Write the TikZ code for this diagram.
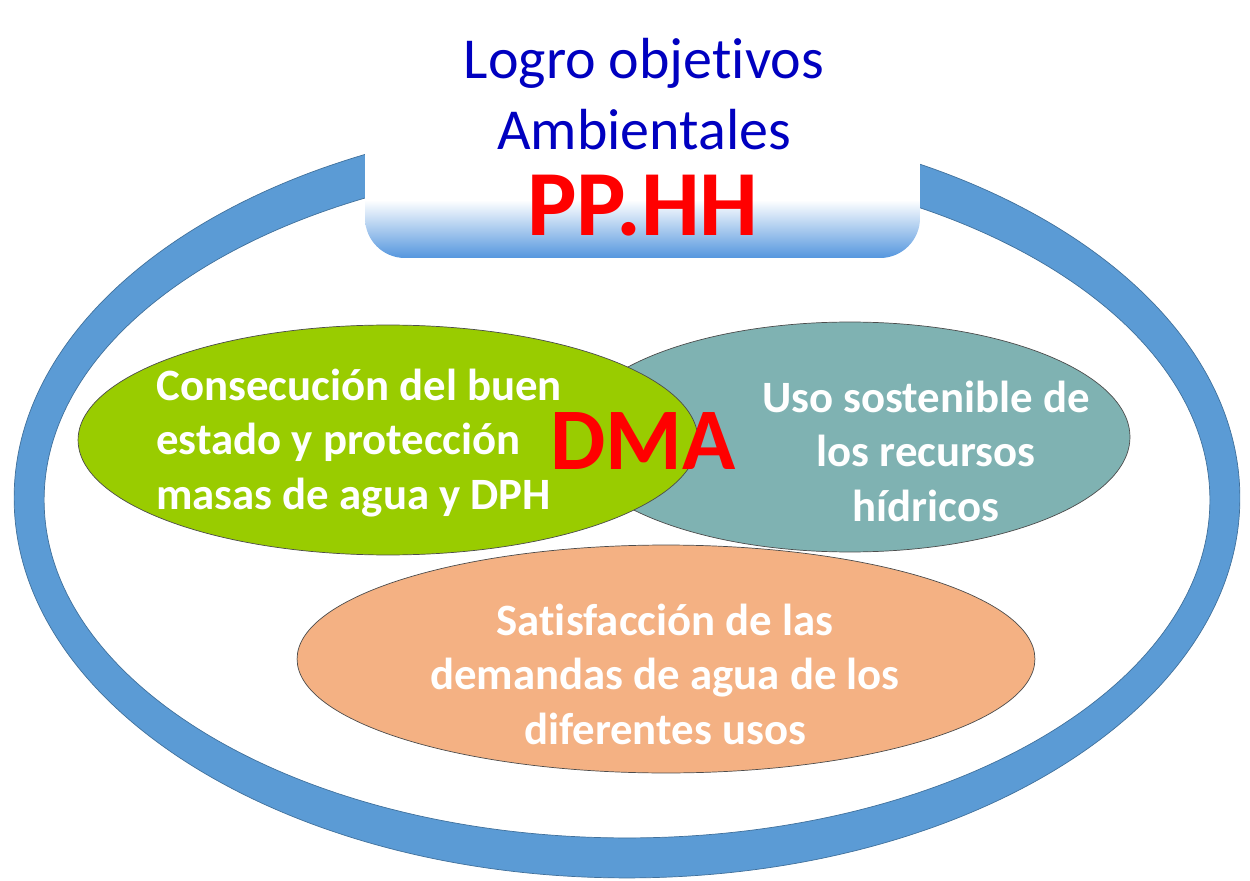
\documentclass[tikz,border=0pt]{standalone}
\usepackage{fontspec}
\setmainfont{Carlito}[Ligatures=CommonOff]
\usetikzlibrary{shapes.geometric}
\definecolor{anillo}{RGB}{91,155,213}
\definecolor{bordeanillo}{RGB}{65,113,156}
\definecolor{verde}{RGB}{153,204,0}
\definecolor{turquesa}{RGB}{127,178,178}
\definecolor{salmon}{RGB}{244,177,131}
\definecolor{azultitulo}{RGB}{0,0,192}
\definecolor{azulcaja}{RGB}{84,150,222}
\begin{document}
\begin{tikzpicture}[x=0.02cm,y=-0.02cm,
    meta/.style={ellipse,draw=black!70,thin,inner sep=0pt},
    textoblanco/.style={text=white,inner sep=0pt,font=\fontsize{25.5}{31}\selectfont\bfseries},
    rojo/.style={text=red,font=\fontsize{53}{56}\selectfont\bfseries}]
\useasboundingbox (0,0) rectangle (1250,881);
% anillo azul
\fill[anillo,draw=bordeanillo,even odd rule] (627,498) ellipse [x radius=12.26cm,y radius=7.6cm]
    (627,500) ellipse [x radius=11.66cm,y radius=6.76cm];
% caja del titulo
\begin{scope}
  \clip[rounded corners=0.8cm] (365,-40) rectangle (920,258);
  \fill[white] (365,-40) rectangle (920,258);
  \shade[top color=white,bottom color=azulcaja] (365,200) rectangle (920,258);
\end{scope}
\node[text=azultitulo,font=\fontsize{33}{40}\selectfont,align=center] (logro) at (644,94) {Logro objet\kern0pt ivos\\Ambientales};
\node[rojo] (pphh) at (643,206) {PP.HH};
% objetivos
\node[meta,fill=turquesa,minimum width=11.2cm,minimum height=4.6cm] (uso) at (850,437) {};
\node[meta,fill=verde,minimum width=12.4cm,minimum height=4.6cm] (estado) at (388,440) {};
\node[meta,fill=salmon,minimum width=14.76cm,minimum height=4.56cm] (demandas) at (666,659) {};
\node[textoblanco,align=left,anchor=west] (testado) at (156,443) {Consecución del buen\\estado y protección\\masas de agua y DPH};
\node[textoblanco,align=center] (tuso) at (926,451) {Uso sostenible de\\los recursos\\hídricos};
\node[textoblanco,align=center] (tdemandas) at (665,674) {Satisfacción de las\\demandas de agua de los\\diferentes usos};
\node[rojo,font=\fontsize{50}{50}\selectfont\bfseries] (dma) at (643,441) {DMA};
\end{tikzpicture}
\end{document}
